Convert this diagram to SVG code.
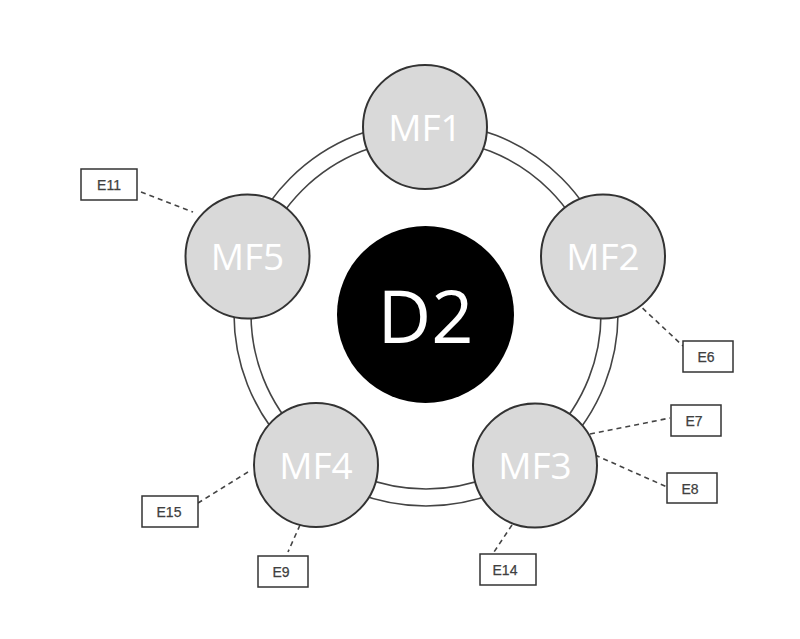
<svg xmlns="http://www.w3.org/2000/svg" width="800" height="639" viewBox="0 0 800 639">
<style>
.ring{fill:none;stroke:#444;stroke-width:1.6}
.mf{fill:#d9d9d9;stroke:#333;stroke-width:2}
.mft{font-family:"Open Sans","Liberation Sans",sans-serif;font-size:37px;fill:#fff;text-anchor:middle}
.box{fill:#fff;stroke:#333;stroke-width:1.5}
.bt{font-family:"Liberation Sans",Arial,sans-serif;font-size:14px;fill:#404040;text-anchor:middle;stroke:#404040;stroke-width:0.25}
.dash{stroke:#444;stroke-width:1.6;stroke-dasharray:5,4;fill:none}
</style>
<rect width="800" height="639" fill="#fff"/>
<g id="ring">
<circle class="ring" cx="426" cy="314" r="192"/>
<circle class="ring" cx="426" cy="314" r="175"/>
</g>
<g id="connectors">
<line class="dash" x1="141" y1="192" x2="193" y2="212"/>
<line class="dash" x1="636" y1="302" x2="683" y2="346"/>
<line class="dash" x1="590" y1="434" x2="670" y2="418"/>
<line class="dash" x1="595" y1="455" x2="667" y2="487"/>
<line class="dash" x1="512" y1="525" x2="494" y2="552"/>
<line class="dash" x1="248" y1="472" x2="198" y2="503"/>
<line class="dash" x1="300" y1="525" x2="288" y2="552"/>
</g>
<g id="D2">
<circle cx="425.5" cy="314.5" r="88.5" fill="#000"/>
<text x="425.5" y="343" font-family="'Open Sans','Liberation Sans',sans-serif" font-size="74" fill="#fff" text-anchor="middle">D2</text>
</g>
<g id="MF1"><circle class="mf" cx="425" cy="127" r="62"/><text class="mft" x="425" y="141">MF1</text></g>
<g id="MF2"><circle class="mf" cx="603" cy="256.5" r="62"/><text class="mft" x="603" y="270">MF2</text></g>
<g id="MF3"><circle class="mf" cx="535" cy="465.5" r="62"/><text class="mft" x="535" y="479">MF3</text></g>
<g id="MF4"><circle class="mf" cx="316" cy="465" r="62"/><text class="mft" x="316" y="479">MF4</text></g>
<g id="MF5"><circle class="mf" cx="247.5" cy="256.5" r="62"/><text class="mft" x="247.5" y="270">MF5</text></g>
<g id="E11"><rect class="box" x="81" y="169" width="56" height="31"/><text class="bt" x="109" y="190">E11</text></g>
<g id="E6"><rect class="box" x="683" y="341" width="50" height="31"/><text class="bt" x="706" y="362">E6</text></g>
<g id="E7"><rect class="box" x="671" y="405" width="50" height="31"/><text class="bt" x="694" y="426">E7</text></g>
<g id="E8"><rect class="box" x="667" y="473" width="50" height="30"/><text class="bt" x="690" y="493.5">E8</text></g>
<g id="E14"><rect class="box" x="480" y="554" width="56" height="31"/><text class="bt" x="505" y="575">E14</text></g>
<g id="E15"><rect class="box" x="142" y="496" width="56" height="31"/><text class="bt" x="169" y="517">E15</text></g>
<g id="E9"><rect class="box" x="258" y="556" width="50" height="31"/><text class="bt" x="281" y="577">E9</text></g>
</svg>
